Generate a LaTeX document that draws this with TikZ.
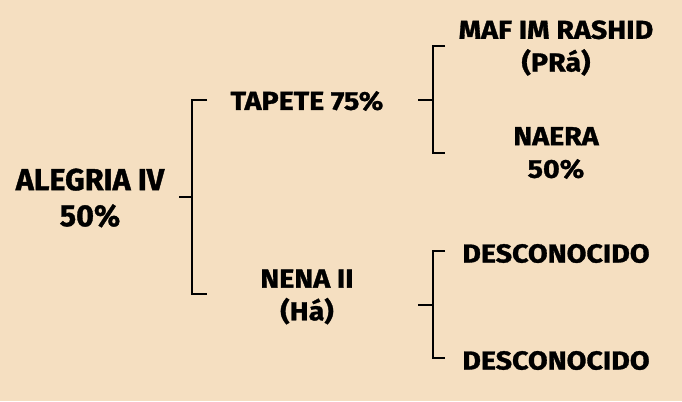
\documentclass[tikz,border=0pt]{standalone}
\usepackage{fontspec}
\setmainfont{Fira Sans}[BoldFeatures={FakeBold=1.2}]
\newfontfamily\leaffont{Fira Sans}[FakeStretch=1.1,BoldFeatures={FakeBold=1.2}]
\definecolor{sand}{RGB}{245,223,193}

\begin{document}
\begin{tikzpicture}[
  x=0.75pt,
  y=-0.75pt,
  every node/.style={inner sep=0pt,align=center,font=\leaffont\bfseries\fontsize{19.5}{24.5}\selectfont},
  sire/.style={font=\bfseries\fontsize{22.9}{27}\selectfont},
  bracket/.style={line width=2pt}
]
  \fill[sand] (0,0) rectangle (682,401);
  \useasboundingbox (0,0) rectangle (682,401);
  \node[sire] (alegria) at (90,198) {ALEGRIA IV\\50\%};
  \node (tapete) at (307,101) {TAPETE 75\%};
  \node (nena) at (307,297) {NENA II\\(Há)};
  \node (maf) at (556,48) {MAF IM RASHID\\(PRá)};
  \node (naera) at (556,153) {NAERA\\50\%};
  \node (desc1) at (556,253.5) {DESCONOCIDO};
  \node (desc2) at (556,360.5) {DESCONOCIDO};
  \coordinate (t0) at (179,197);
  \coordinate (a0) at (207,100);
  \coordinate (b0) at (207,294);
  \coordinate (t1) at (418,100);
  \coordinate (a1) at (445,46);
  \coordinate (b1) at (445,153);
  \coordinate (t2) at (418,305);
  \coordinate (a2) at (445,251);
  \coordinate (b2) at (445,358);
  \draw[bracket] (t0) -- ++(13,0);
  \draw[bracket] (a0) -- ++(-15,0) |- (b0);
  \draw[bracket] (t1) -- ++(15,0);
  \draw[bracket] (a1) -- ++(-12,0) |- (b1);
  \draw[bracket] (t2) -- ++(15,0);
  \draw[bracket] (a2) -- ++(-12,0) |- (b2);
\end{tikzpicture}
\end{document}
